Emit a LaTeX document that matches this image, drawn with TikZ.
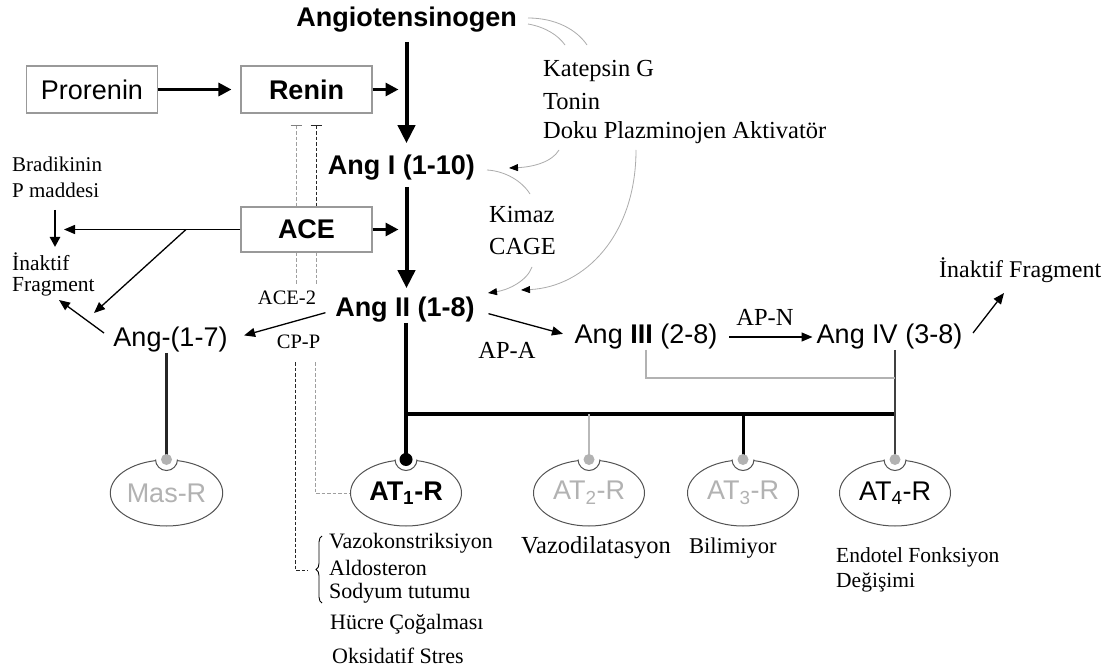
\documentclass[tikz,border=0pt]{standalone}
\usepackage{fontspec}
\setmainfont{Liberation Serif}
\setsansfont{Liberation Sans}
\usetikzlibrary{arrows.meta,shapes.geometric,decorations.pathreplacing,calc}
\newcommand\fs[1]{\fontsize{#1}{#1}\selectfont}
\newcommand\rcup[1]{%
  \fill[white] (#1.north) circle[radius=11];
  \draw[gray!65!black, line width=1pt] ([xshift=11pt]#1.north) arc[start angle=0,end angle=180,radius=11];
}
\tikzset{
 sfb/.style={font=\sffamily\bfseries\fs{27}, inner sep=0pt},
 sfr/.style={font=\sffamily\fs{27}, inner sep=0pt},
 sr/.style={font=\rmfamily\fs{#1}, inner sep=0pt, anchor=west},
 sr/.default=24.5,
 src/.style={font=\rmfamily\fs{#1}, inner sep=0pt},
 box/.style={draw=gray!80, line width=1.1pt, minimum width=131pt, minimum height=47pt, inner sep=0pt},
 rec/.style={ellipse, draw=gray!65!black, line width=1pt, minimum width=111pt, minimum height=66pt, inner sep=0pt, font=\sffamily\fs{27}},
 bigarr/.style={line width=4pt, -{Triangle[length=18pt,width=17pt]}},
 medarr/.style={line width=3pt, -{Triangle[length=13pt,width=13pt]}},
 thinarr/.style={line width=1.3pt, -{Triangle[length=11pt,width=9pt]}},
 grayc/.style={line width=0.8pt, gray!65, -{Triangle[length=9pt,width=7pt,color=black]}},
 grayl/.style={line width=0.8pt, gray!65},
 dashD/.style={line width=1pt, black!85, dash pattern=on 3.5pt off 2pt},
 dashG/.style={line width=1pt, gray!75, dash pattern=on 3.5pt off 2pt},
}
\begin{document}
\begin{tikzpicture}[x=1pt,y=-1pt]
\useasboundingbox[fill=white] (0,0) rectangle (1113,668);

% main molecules
\node[sfb] (ago) at (406.5,20) {Angiotensinogen};
\node[sfb] (angI) at (401.5,168) {Ang I (1-10)};
\node[sfb] (angII) at (405,310) {Ang II (1-8)};
\node[sfr] (ang17) at (170.5,340) {Ang-(1-7)};
\node[sfr] (angIII) at (646,337) {Ang \textbf{III} (2-8)};
\node[sfr] (angIV) at (889.5,337) {Ang IV (3-8)};

% boxes
\node[box, font=\sffamily\fs{27}] (pro) at (92,89.5) {Prorenin};
\node[box, font=\sffamily\bfseries\fs{27}] (ren) at (306.5,89.5) {Renin};
\node[box, minimum height=45pt, font=\sffamily\bfseries\fs{27}] (ace) at (306.5,229.5) {ACE};

% enzyme texts
\node[sr] (kat) at (543,71) {Katepsin G};
\node[sr] (ton) at (543,102) {Tonin};
\node[sr] (doku) at (543,133) {Doku Plazminojen Aktivatör};
\node[sr] (kim) at (489,215) {Kimaz};
\node[sr] (cage) at (489,247) {CAGE};
\node[sr=21] (brad) at (12,164) {Bradikinin};
\node[sr=21] (pmad) at (12,190) {P maddesi};
\node[sr=21.5] (inak1) at (12,262) {İnaktif};
\node[sr=21.5] (frag1) at (12,287) {Fragment};
\node[src=20.5] (ace2) at (287,298) {ACE-2};
\node[src=20.5] (cpp) at (298.5,342) {CP-P};
\node[src=24.5] (apa) at (507,350) {AP-A};
\node[src=24.5] (apn) at (765,317) {AP-N};
\node[sr=24] (inakR) at (939,270) {İnaktif Fragment};
\node[sr=22] (vk) at (329,543) {Vazokonstriksiyon};
\node[sr=22] (ald) at (329,568) {Aldosteron};
\node[sr=22] (sod) at (329,593) {Sodyum tutumu};
\node[sr=22] (huc) at (330,624) {Hücre Çoğalması};
\node[sr=22] (oks) at (332,656) {Oksidatif Stres};
\node[sr=24.5] (vzd) at (521,548) {Vazodilatasyon};
\node[sr=22.5] (bil) at (689,548) {Bilimiyor};
\node[sr=21.5] (endo) at (836,557) {Endotel Fonksiyon};
\node[sr=21.5] (deg) at (836,582) {Değişimi};

% receptors
\node[rec, text=gray!60] (mas) at (166.5,493) {Mas-R};
\node[rec, font=\sffamily\bfseries\fs{27}] (at1) at (406,493) {AT\textsubscript{1}-R};
\node[rec, text=gray!60] (at2) at (589,493) {AT\textsubscript{2}-R};
\node[rec, text=gray!60] (at3) at (743,493) {AT\textsubscript{3}-R};
\node[rec] (at4) at (895,493) {AT\textsubscript{4}-R};
\rcup{mas}\rcup{at1}\rcup{at2}\rcup{at3}\rcup{at4}

% main arrows
\draw[bigarr, shorten <=9pt, shorten >=12pt] (ago.south) -- (ago.south |- angI.north);
\draw[bigarr, shorten <=6pt, shorten >=9pt] (ago.south |- angI.south) -- (ago.south |- angII.north);
\draw[medarr, shorten >=9pt] (pro.east) -- (ren.west);
\draw[medarr, shorten >=8pt] (ren.east) -- (ago.south |- ren.east);
\draw[medarr, shorten >=8pt] (ace.east) -- (ago.south |- ace.east);

% receptor connections
\coordinate (hb) at (0,414);
\coordinate (b3) at (0,378);
\draw[line width=3pt, black!85] (mas.north |- ang17.south) -- (mas.north);
\draw[line width=4pt] (at1.north |- angII.south) -- (at1.north);
\draw[line width=3.5pt] (at1.north |- hb) -- (at4.north |- hb);
\draw[line width=2pt, gray!55] (at2.north |- hb) -- (at2.north);
\draw[line width=3pt] (at3.north |- hb) -- (at3.north);
\draw[line width=1.5pt, black!75] (at4.north |- angIV.south) -- (at4.north);
\draw[line width=1.2pt, gray!60] (angIII.south) |- (at4.north |- b3);
\fill[gray!60] (mas.north) circle[radius=5.5];
\fill[black] (at1.north) circle[radius=6.5];
\fill[gray!60] (at2.north) circle[radius=5.5];
\fill[gray!60] (at3.north) circle[radius=5.5];
\fill[gray!60] (at4.north) circle[radius=5.5];

% thin arrows
\coordinate (la) at (64,229.5);
\coordinate (dg1) at (186,229.5);
\coordinate (dg2) at (94,313);
\coordinate (bd1) at (55,210);
\coordinate (bd2) at (55,247);
\coordinate (f1) at (104,333);
\coordinate (f2) at (59,300);
\coordinate (g1) at (973,333);
\coordinate (g2) at (1004,293);
\draw[thinarr] (ace.west) -- (la);
\draw[thinarr] (dg1) -- (dg2);
\draw[line width=2.5pt, -{Triangle[length=10pt,width=10pt]}] (bd1) -- (bd2);
\draw[thinarr] (f1) -- (f2);
\draw[thinarr, shorten <=10pt, shorten >=17pt] (angII.west) -- (ang17.east);
\draw[thinarr, shorten <=14pt, shorten >=12pt] (angII.east) -- (angIII.west);
\draw[thinarr, shorten <=12pt, shorten >=4pt] (angIII.east) -- (angIV.west);
\draw[thinarr] (g1) -- (g2);

% grey enzyme curves
\draw[grayl] (528,18) .. controls (556,18) and (577,30) .. (587,45);
\draw[grayl] (528,24) .. controls (545,27) and (558,35) .. (565,45);
\draw[grayc] (559,150) .. controls (552,162) and (533,167) .. (509,168);
\draw[grayl] (487,170) .. controls (505,171) and (522,181) .. (530,194);
\draw[grayc] (636,150) .. controls (636,235) and (585,287) .. (521,290);
\draw[grayc] (532,267) .. controls (527,281) and (508,290) .. (488,293);

% dashed inhibition lines
\coordinate (t1) at (296,125);
\coordinate (t2) at (316,125);
\coordinate (u) at (0,285);
\coordinate (l1) at (295,362);
\coordinate (l2) at (315,362);
\coordinate (bt) at (308,570);
\draw[dashG, {Bar[width=11pt,color=gray]}-] (t1) -- (t1 |- ace.north);
\draw[dashD, {Bar[width=11pt]}-] (t2) -- (t2 |- ace.north);
\draw[dashG] (t1 |- ace.south) -- (t1 |- u);
\draw[dashG] (t2 |- ace.south) -- (t2 |- u);
\draw[dashD] (l1) |- (bt);
\draw[dashG] (l2) |- (at1.west);
\draw[decorate, decoration={brace,amplitude=6pt}, line width=0.9pt] (322,603) -- (322,536);
\end{tikzpicture}
\end{document}
